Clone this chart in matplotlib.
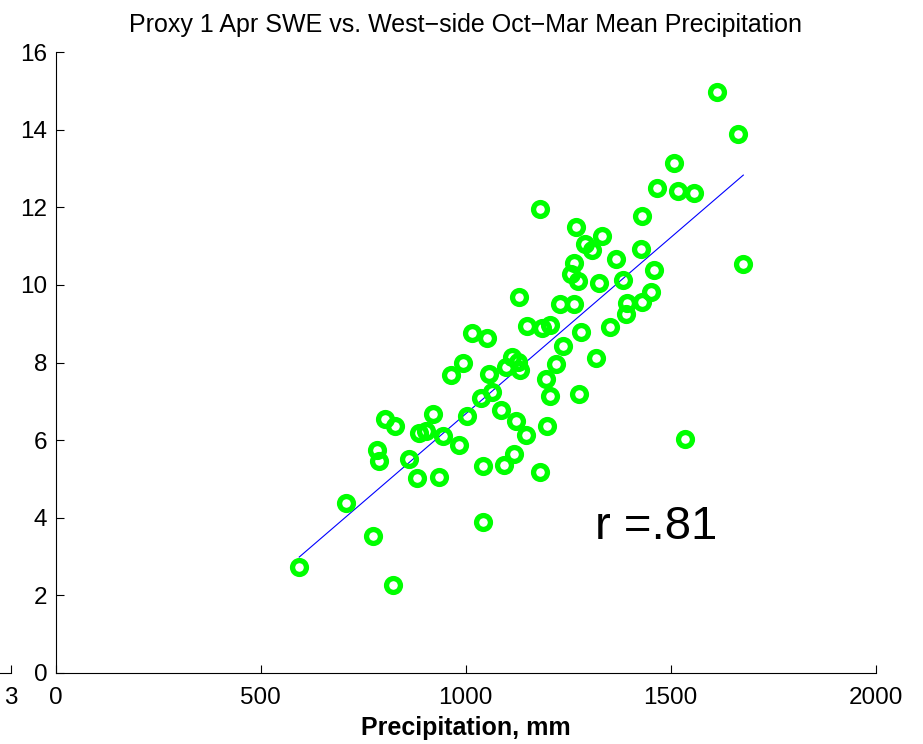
import numpy as np
import matplotlib
matplotlib.use("Agg")
import matplotlib.pyplot as plt

plt.rcParams['font.family'] = ['Liberation Sans', 'DejaVu Sans']

# Oct-Mar mean precipitation (mm), west side
precip = [594, 709, 775, 822, 783, 789, 802, 828, 862, 882,
          886, 903, 921, 936, 945, 984, 964, 993, 1002, 1015,
          1037, 1053, 1057, 1064, 1043, 1043, 1086, 1093, 1098, 1113,
          1128, 1119, 1123, 1132, 1131, 1146, 1150, 1186, 1181, 1182,
          1195, 1199, 1206, 1206, 1220, 1237, 1230, 1263, 1256, 1264,
          1273, 1270, 1277, 1280, 1291, 1307, 1317, 1325, 1332, 1352,
          1367, 1384, 1391, 1393, 1428, 1431, 1430, 1452, 1460, 1466,
          1508, 1517, 1557, 1536, 1612, 1663, 1677]

# proxy 1 Apr SWE
swe = [2.72, 4.38, 3.52, 2.25, 5.74, 5.46, 6.54, 6.37, 5.50, 5.01,
       6.18, 6.23, 6.66, 5.05, 6.11, 5.88, 7.68, 7.99, 6.61, 8.77,
       7.08, 8.63, 7.71, 7.25, 5.32, 3.88, 6.77, 5.36, 7.88, 8.15,
       8.02, 5.63, 6.49, 7.81, 9.68, 6.12, 8.95, 8.89, 11.96, 5.18,
       7.57, 6.37, 8.97, 7.14, 7.95, 8.43, 9.50, 9.50, 10.28, 10.56,
       10.11, 11.49, 7.19, 8.78, 11.05, 10.89, 8.11, 10.06, 11.25, 8.91,
       10.66, 10.14, 9.24, 9.54, 10.92, 11.79, 9.56, 9.83, 10.38, 12.51,
       13.14, 12.43, 12.36, 6.04, 14.98, 13.89, 10.54]

x_ticks = [0, 500, 1000, 1500, 2000]
y_ticks = [0, 2, 4, 6, 8, 10, 12, 14, 16]
r_label = "r =.81"

fig = plt.figure(figsize=(9.23, 7.44), dpi=100)
ax = fig.add_axes([0.0603, 0.0958, 0.8885, 0.8339])

ax.plot(precip, swe, 'o', ms=10, mfc='none', mec=(0, 1, 0), mew=3.8, zorder=3)

# least squares line over data range
xs = np.array(precip, dtype=float)
p = np.polyfit(xs, swe, 1)
xl = np.array([xs.min(), xs.max()])
ax.plot(xl, np.polyval(p, xl), color='blue', lw=0.8, zorder=2)

ax.text(1315, 3.76, r_label, fontsize=34, va='center', ha='left')

ax.set_xlim(0, 2000)
ax.set_ylim(0, 16)
ax.set_xticks(x_ticks)
ax.set_yticks(y_ticks)
ax.tick_params(direction='in', length=6, width=0.8, labelsize=17.5)
ax.tick_params(axis='x', pad=10)
ax.tick_params(axis='y', pad=6)
for s in ['top', 'right']:
    ax.spines[s].set_visible(False)
for s in ['left', 'bottom']:
    ax.spines[s].set_linewidth(0.8)

ax.set_title("Proxy 1 Apr SWE vs. West\u2212side Oct\u2212Mar Mean Precipitation",
             fontsize=18, pad=14.5)
ax.set_xlabel("Precipitation, mm", fontsize=18, fontweight='bold', labelpad=5)

# stray neighbouring axis peeking in at bottom-left
ax2 = fig.add_axes([-0.2, 0.0958, 0.2122, 0.3])
ax2.set_xlim(0, 3)
ax2.set_ylim(0, 1)
ax2.set_xticks([3])
ax2.set_xticklabels(["3"])
ax2.set_yticks([])
ax2.patch.set_visible(False)
for s in ['top', 'right', 'left']:
    ax2.spines[s].set_visible(False)
ax2.spines['bottom'].set_linewidth(0.8)
ax2.tick_params(direction='in', length=6, width=0.8, labelsize=17.5, pad=10)

fig.savefig("out.png", dpi=100)
